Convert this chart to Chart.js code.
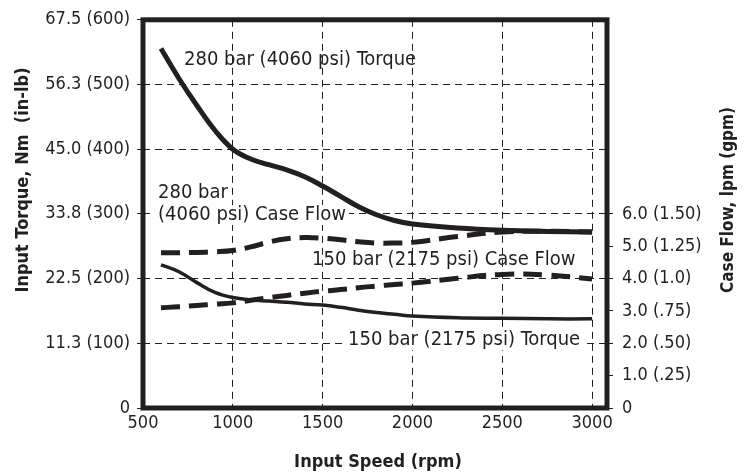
<!DOCTYPE html>
<html>
<head>
<meta charset="utf-8">
<script src="https://cdn.jsdelivr.net/npm/chart.js@4.4.0/dist/chart.umd.min.js"></script>
<style>
  html, body { margin: 0; padding: 0; background: #fff; }
  #caixa { width: 755px; height: 475px; }
</style>
</head>
<body>
<div id="caixa"><canvas id="graficoTorque" width="755" height="475"></canvas></div>
<script>
// valores
const rpm = [600, 700, 800, 900, 1000, 1100, 1200, 1300, 1400, 1500, 1600, 1700, 1800, 1900, 2000, 2250, 2500, 2750, 3000];
const torque280 = [62.5, 57.3, 52.6, 48.3, 45.0, 43.3, 42.3, 41.4, 40.2, 38.6, 36.8, 35.0, 33.6, 32.6, 32.0, 31.3, 30.9, 30.7, 30.6];
const torque150 = [24.9, 23.7, 21.8, 20.1, 19.2, 18.8, 18.6, 18.4, 18.1, 17.9, 17.5, 17.0, 16.6, 16.3, 16.0, 15.7, 15.6, 15.5, 15.5];
const vazao280 = [4.80, 4.80, 4.81, 4.83, 4.87, 4.98, 5.13, 5.23, 5.27, 5.25, 5.20, 5.14, 5.10, 5.10, 5.12, 5.30, 5.44, 5.46, 5.44];
const vazao150 = [3.10, 3.13, 3.17, 3.21, 3.25, 3.33, 3.41, 3.48, 3.55, 3.61, 3.66, 3.72, 3.77, 3.82, 3.86, 4.01, 4.13, 4.11, 3.99];

const ticksX = [500, 1000, 1500, 2000, 2500, 3000];
const rotulosX = ["500", "1000", "1500", "2000", "2500", "3000"];
const ticksTorque = [0, 11.3, 22.5, 33.8, 45.0, 56.3, 67.5];
const rotulosTorque = ["0", "11.3 (100)", "22.5 (200)", "33.8 (300)", "45.0 (400)", "56.3 (500)", "67.5 (600)"];
const ticksVazao = [0, 1, 2, 3, 4, 5, 6];
const rotulosVazao = ["0", "1.0 (.25)", "2.0 (.50)", "3.0 (.75)", "4.0 (1.0)", "5.0 (1.25)", "6.0 (1.50)"];

const FONTE = '"Liberation Sans Narrow", "DejaVu Sans Condensed", "Arial Narrow", sans-serif';
const PRETO = "#231f20";

function pontos(ys) {
    return rpm.map((x, i) => ({ x: x, y: ys[i] }));
}

const rotulos = {
    id: "rotulos",
    beforeDatasetsDraw(chart) {
        const ctx = chart.ctx;
        ctx.save();
        ctx.font = "20px " + FONTE;
        ctx.textBaseline = "middle";
        ctx.textAlign = "left";
        const textos = [
            { t: "280 bar (4060 psi) Torque", px: 184, py: 60, fundo: false },
            { t: "280 bar", px: 158, py: 193, fundo: true },
            { t: "(4060 psi) Case Flow", px: 158, py: 215, fundo: true },
            { t: "150 bar (2175 psi) Case Flow", px: 312, py: 260, fundo: false },
            { t: "150 bar (2175 psi) Torque", px: 348, py: 340, fundo: true }
        ];
        textos.forEach(r => {
            const w = ctx.measureText(r.t).width;
            if (r.fundo) {
                ctx.fillStyle = "#fff";
                ctx.fillRect(r.px - 3, r.py - 10, w + 6, 20);
            }
            ctx.fillStyle = PRETO;
            ctx.fillText(r.t, r.px, r.py);
        });
        ctx.restore();
    },
    afterDatasetsDraw(chart) {
        const { ctx, chartArea: a } = chart;
        ctx.save();
        ctx.strokeStyle = PRETO;
        ctx.lineWidth = 5;
        ctx.strokeRect(a.left, a.top, a.right - a.left, a.bottom - a.top);
        ctx.restore();
    },
    afterDraw(chart) {
        const ctx = chart.ctx;
        ctx.save();
        ctx.fillStyle = PRETO;
        ctx.font = "bold 18px " + FONTE;
        ctx.textAlign = "center";
        ctx.textBaseline = "middle";
        ctx.fillText("Input Speed (rpm)", 378, 462);
        ctx.translate(23, 180);
        ctx.rotate(-Math.PI / 2);
        ctx.fillText("Input Torque, Nm  (in-lb)", 0, 0);
        ctx.restore();
        ctx.save();
        ctx.fillStyle = PRETO;
        ctx.font = "bold 17px " + FONTE;
        ctx.textAlign = "center";
        ctx.textBaseline = "middle";
        ctx.translate(729, 200);
        ctx.rotate(-Math.PI / 2);
        ctx.fillText("Case Flow, lpm (gpm)", 0, 0);
        ctx.restore();
    }
};

new Chart(document.getElementById("graficoTorque"), {
    type: "line",
    data: {
        datasets: [
            { label: "280 bar (4060 psi) Torque", data: pontos(torque280), yAxisID: "y", borderWidth: 5 },
            { label: "150 bar (2175 psi) Torque", data: pontos(torque150), yAxisID: "y", borderWidth: 3.5 },
            { label: "280 bar (4060 psi) Case Flow", data: pontos(vazao280), yAxisID: "y1", borderWidth: 5, borderDash: [19, 9] },
            { label: "150 bar (2175 psi) Case Flow", data: pontos(vazao150), yAxisID: "y1", borderWidth: 5, borderDash: [19, 9] }
        ]
    },
    options: {
        responsive: false,
        animation: false,
        elements: {
            point: { radius: 0 },
            line: { borderColor: PRETO, tension: 0.4, borderCapStyle: "butt" }
        },
        layout: { padding: { top: 12, left: 0, right: 0, bottom: 0 } },
        plugins: { legend: { display: false }, tooltip: { enabled: false } },
        scales: {
            x: {
                type: "linear",
                min: 500,
                max: 3083,
                afterBuildTicks: s => { s.ticks = ticksX.map(v => ({ value: v })); },
                afterFit: s => { s.height = 67; },
                border: { display: false, dash: [7, 5] },
                grid: { color: PRETO, lineWidth: 1, drawTicks: false },
                ticks: {
                    color: PRETO, padding: 5, font: { family: FONTE, size: 18 }, maxRotation: 0,
                    callback: (v, i) => rotulosX[i]
                }
            },
            y: {
                position: "left",
                min: 0,
                max: 67.5,
                afterBuildTicks: s => { s.ticks = ticksTorque.map(v => ({ value: v })); },
                afterFit: s => { s.width = 143; },
                border: { display: false, dash: [7, 5] },
                grid: { color: PRETO, lineWidth: 1, tickLength: 6, tickBorderDash: [] },
                ticks: {
                    color: PRETO, padding: 7, font: { family: FONTE, size: 18 },
                    callback: (v, i) => rotulosTorque[i]
                }
            },
            y1: {
                position: "right",
                min: 0,
                max: 12,
                afterBuildTicks: s => { s.ticks = ticksVazao.map(v => ({ value: v })); },
                afterFit: s => { s.width = 148; },
                border: { display: false },
                grid: { color: PRETO, lineWidth: 1, tickLength: 6, drawOnChartArea: false },
                ticks: {
                    color: PRETO, padding: 9, font: { family: FONTE, size: 18 },
                    callback: (v, i) => rotulosVazao[i]
                }
            }
        }
    },
    plugins: [rotulos]
});
</script>
</body>
</html>
